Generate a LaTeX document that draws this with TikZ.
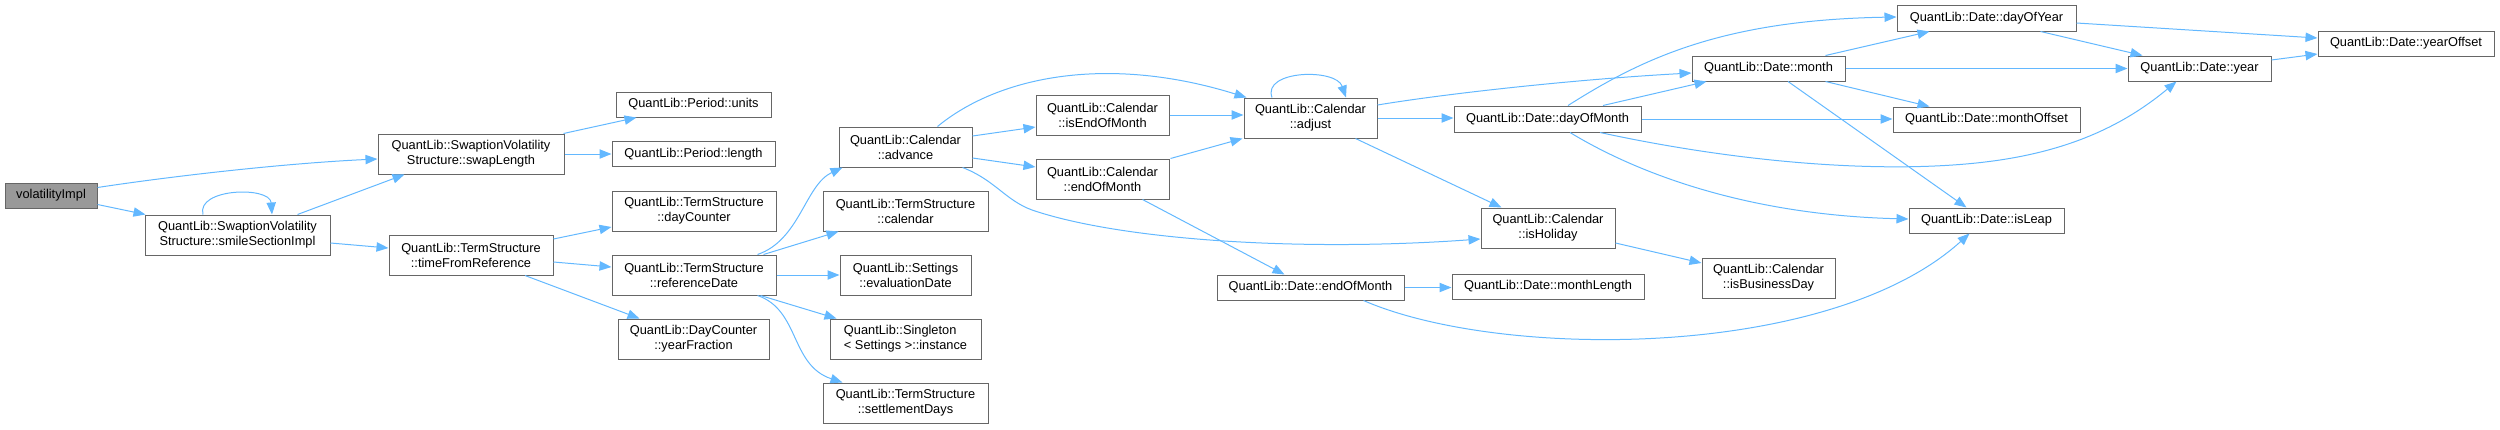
\documentclass[tikz,border=0pt]{standalone}
\usepackage{fontspec}
\setmainfont{Liberation Sans}
\usetikzlibrary{arrows.meta,calc}
\definecolor{edgec}{HTML}{63B8FF}
\definecolor{bord}{HTML}{666666}
\definecolor{rootf}{HTML}{999999}
\newcommand\nd[7][]{\node[box,minimum width={#5*0.75pt},minimum height={#6*0.75pt},#1] (#2) at (#3,#4) {#7};}
\begin{document}
\begin{tikzpicture}[x=0.75pt,y=-0.75pt,
  box/.style={draw=bord,line width=0.75pt,fill=white,inner sep=0pt,align=center,
    font=\fontsize{9.6}{11.25}\selectfont},
  root/.style={fill=rootf},
  e/.style={draw=edgec,line width=0.75pt,-{Triangle[length=9pt,width=7pt]}}]
\useasboundingbox (0,0) rectangle (2500,429);

\nd[root]{V}{51}{195.5}{92}{25}{volatilityImpl}
\nd{S}{237.5}{235}{185}{40}{QuantLib::SwaptionVolatility\\Structure::smileSectionImpl}
\nd{SL}{471}{154}{186}{40}{QuantLib::SwaptionVolatility\\Structure::swapLength}
\nd{PU}{693.5}{104.5}{155}{25}{QuantLib::Period::units}
\nd{PL}{693.5}{154}{163}{25}{QuantLib::Period::length}
\nd{DC}{694}{211}{164}{40}{QuantLib::TermStructure\\::dayCounter}
\nd{TF}{471}{255}{164}{40}{QuantLib::TermStructure\\::timeFromReference}
\nd{RD}{694}{275}{164}{40}{QuantLib::TermStructure\\::referenceDate}
\nd{YF}{693.5}{339}{151}{40}{QuantLib::DayCounter\\::yearFraction}
\nd{AD}{905.5}{147}{133}{40}{QuantLib::Calendar\\::advance}
\nd{CA}{905.5}{211}{165}{40}{QuantLib::TermStructure\\::calendar}
\nd{ED}{905.5}{275}{131}{40}{QuantLib::Settings\\::evaluationDate}
\nd[align=left]{SI}{905.5}{339}{151}{40}{QuantLib::Singleton\\< Settings >::instance}
\nd{SD}{905.5}{403}{165}{40}{QuantLib::TermStructure\\::settlementDays}
\nd{IE}{1102.5}{115}{133}{40}{QuantLib::Calendar\\::isEndOfMonth}
\nd{CE}{1102.5}{179}{133}{40}{QuantLib::Calendar\\::endOfMonth}
\nd{AJ}{1310.5}{118}{133}{40}{QuantLib::Calendar\\::adjust}
\nd{DE}{1310.5}{287.5}{187}{25}{QuantLib::Date::endOfMonth}
\nd{DM}{1547.5}{119}{187}{26}{QuantLib::Date::dayOfMonth}
\nd{IH}{1548}{228}{134}{40}{QuantLib::Calendar\\::isHoliday}
\nd{ML}{1548}{286.5}{192}{25}{QuantLib::Date::monthLength}
\nd{MO}{1768.5}{68.5}{153}{25}{QuantLib::Date::month}
\nd{BD}{1768.5}{278}{133}{40}{QuantLib::Calendar\\::isBusinessDay}
\nd{DY}{1986.5}{18}{179}{26}{QuantLib::Date::dayOfYear}
\nd{MF}{1986.5}{119.5}{187}{25}{QuantLib::Date::monthOffset}
\nd{IL}{1986.5}{220.5}{155}{25}{QuantLib::Date::isLeap}
\nd{YR}{2199.5}{68.5}{143}{25}{QuantLib::Date::year}
\nd{YO}{2406}{43.5}{176}{25}{QuantLib::Date::yearOffset}

% edges
\draw[e] ($(V.east)+(0,-8)$) .. controls (180,175) and (290,163) .. ($(SL.west)+(0,5)$);
\draw[e] ($(V.east)+(0,9)$) -- ($(S.north west)+(1,0)$);
\draw[e] ($(S.north)+(-34.5,0)$) .. controls (196,188) and (270,186) .. ($(S.north)+(34.5,0)$);
\draw[e] ($(S.north east)+(-33,0)$) -- ($(SL.south west)+(27,0)$);
\draw[e] ($(S.east)+(0,8)$) -- ($(TF.west)+(0,-7)$);
\draw[e] ($(SL.north east)+(-1,0)$) -- ($(PU.south west)+(21,0)$);
\draw[e] (SL.east) -- (SL.east -| PL.west);
\draw[e] ($(TF.east)+(0,-16)$) -- ($(DC.west)+(0,16)$);
\draw[e] ($(TF.east)+(0,7)$) -- ($(RD.west)+(0,-8)$);
\draw[e] ($(TF.south)+(54,0)$) -- ($(YF.north west)+(22,0)$);
\draw[e] ($(RD.north east)+(-19,0)$) .. controls (800,240) and (805,185) .. ($(AD.south west)+(4,0)$);
\draw[e] ($(RD.north east)+(-13,0)$) -- ($(CA.south west)+(16,0)$);
\draw[e] (RD.east) -- (RD.east -| ED.west);
\draw[e] ($(RD.south east)+(-16,0)$) -- ($(SI.north west)+(7,0)$);
\draw[e] ($(RD.south east)+(-19,0)$) .. controls (800,310) and (790,365) .. ($(SD.north west)+(20,0)$);
\draw[e] ($(AD.north)+(32,0)$) .. controls (1000,75) and (1110,55) .. ($(AJ.north west)+(3,0)$);
\draw[e] ($(AD.east)+(0,-11)$) -- ($(IE.west)+(0,12)$);
\draw[e] ($(AD.east)+(0,11)$) -- ($(CE.west)+(0,-12)$);
\draw[e] ($(AD.south east)+(-10,0)$) .. controls (995,180) and (1005,200) .. (1032,210)
   .. controls (1120,240) and (1300,252) .. ($(IH.west)+(0,11)$);
\draw[e] (IE.east) -- (IE.east -| AJ.west);
\draw[e] ($(CE.north east)+(1,0)$) -- ($(AJ.south west)+(-1,0)$);
\draw[e] ($(CE.south east)+(-27,0)$) -- ($(DE.north west)+(68,0)$);
\draw[e] ($(AJ.north)+(-38.5,0)$) .. controls (1262,70) and (1336,68) .. ($(AJ.north)+(35.5,0)$);
\draw[e] ($(AJ.east)+(0,-13)$) .. controls (1450,93) and (1580,79) .. ($(MO.west)+(0,4.5)$);
\draw[e] (AJ.east) -- (AJ.east -| DM.west);
\draw[e] ($(AJ.south east)+(-22,0)$) -- ($(IH.north west)+(21,0)$);
\draw[e] ($(DM.north)+(20.5,0)$) .. controls (1640,60) and (1720,20) .. ($(DY.west)+(0,-1)$);
\draw[e] ($(DM.north)+(55.5,0)$) -- ($(MO.south west)+(15,0)$);
\draw[e] (DM.east) -- (DM.east -| MF.west);
\draw[e] ($(DM.south)+(52.5,0)$) .. controls (1750,165) and (1900,175) .. (2000,160)
   .. controls (2080,148) and (2130,120) .. ($(YR.south west)+(49,0)$);
\draw[e] ($(DM.south)+(22.5,0)$) .. controls (1640,175) and (1750,215) .. ($(IL.west)+(0,-1.5)$);
\draw[e] ($(MO.north east)+(-20,0)$) -- ($(DY.south west)+(33,0)$);
\draw[e] (MO.east) -- (YR.west);
\draw[e] ($(MO.south east)+(-20,0)$) -- ($(MF.north west)+(37,0)$);
\draw[e] ($(MO.south)+(19.5,0)$) -- ($(IL.north west)+(58,0)$);
\draw[e] ($(DY.east)+(0,5)$) -- ($(YO.west)+(0,-5.5)$);
\draw[e] ($(DY.south east)+(-36,0)$) -- ($(YR.north west)+(15,0)$);
\draw[e] ($(YR.east)+(0,-8.5)$) -- ($(YO.west)+(0,10.5)$);
\draw[e] ($(IH.east)+(0,15)$) -- ($(BD.west)+(0,-15)$);
\draw[e] (DE.east) -- (DE.east -| ML.west);
\draw[e] ($(DE.south east)+(-41,0)$) .. controls (1500,360) and (1830,360) .. ($(IL.south west)+(61,0)$);
\end{tikzpicture}
\end{document}
